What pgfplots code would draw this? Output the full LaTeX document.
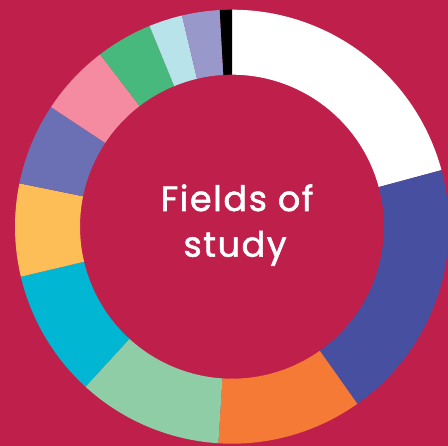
\documentclass[border=0pt]{standalone}
\usepackage{pgfplots}
\usepackage{pgfplotstable}
\pgfplotsset{compat=1.18}
\usepackage{fontspec}
\setmainfont{Poppins}[FakeBold=1.6, LetterSpace=4.5]
\definecolor{bg}{HTML}{BF1F4B}
\definecolor{c0}{HTML}{FFFFFF}
\definecolor{c1}{HTML}{4750A0}
\definecolor{c2}{HTML}{F47A35}
\definecolor{c3}{HTML}{8ECDA5}
\definecolor{c4}{HTML}{00B6D2}
\definecolor{c5}{HTML}{FEBE57}
\definecolor{c6}{HTML}{6B70B4}
\definecolor{c7}{HTML}{F48BA0}
\definecolor{c8}{HTML}{48B97C}
\definecolor{c9}{HTML}{B9E3EA}
\definecolor{c10}{HTML}{9998CA}
\definecolor{c11}{HTML}{000000}
\pgfplotstableread{
field share color
f1 20.8 c0
f2 19.4 c1
f3 10.8 c2
f4 10.8 c3
f5 9.5 c4
f6 6.9 c5
f7 6.1 c6
f8 5.3 c7
f9 4.2 c8
f10 2.5 c9
f11 2.8 c10
f12 0.9 c11
}\fieldsdata
\begin{document}
\begin{tikzpicture}
\begin{axis}[x=1pt,y=1pt,xmin=0,xmax=448,ymin=0,ymax=446,
  scale only axis, axis lines=none, clip=true,
  axis background/.style={fill=bg}]
\xdef\cum{0}
\pgfplotsinvokeforeach{0,...,11}{
  \pgfplotstablegetelem{#1}{share}\of\fieldsdata \let\sh\pgfplotsretval
  \pgfplotstablegetelem{#1}{color}\of\fieldsdata \let\col\pgfplotsretval
  \pgfmathsetmacro\aA{90-3.6*\cum}
  \pgfmathsetmacro\aB{90-3.6*(\cum+\sh)}
  \edef\doit{\noexpand\fill[\col, shift={(axis cs:232,219.3)}] (\aA:217pt) arc[start angle=\aA, end angle=\aB, radius=217pt] -- (\aB:152pt) arc[start angle=\aB, end angle=\aA, radius=152pt] -- cycle;}
  \doit
  \pgfmathsetmacro\newcum{\cum+\sh}
  \xdef\cum{\newcum}
}
\node[white, anchor=base, font=\fontsize{35}{42}\selectfont, inner sep=0pt] at (axis cs:237,235) {Fields of};
\node[white, anchor=base, font=\fontsize{35}{42}\selectfont, inner sep=0pt] at (axis cs:235,189.3) {study};
\end{axis}
\pgfresetboundingbox
\path[use as bounding box] (current axis.south west) rectangle (current axis.north east);
\end{tikzpicture}
\end{document}
